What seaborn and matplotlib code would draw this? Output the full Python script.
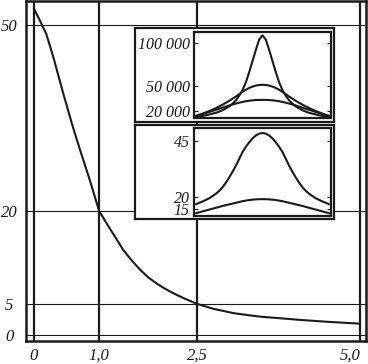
import matplotlib
matplotlib.use("Agg")
import matplotlib.pyplot as plt
import numpy as np
import pandas as pd
import seaborn as sns

sns.set_theme(style="white")
plt.rcParams["font.family"] = ["Liberation Serif", "DejaVu Serif"]
plt.rcParams["font.style"] = "italic"

W, H = 368, 364

# main curve
main_x = [0, 0.1, 0.19, 0.3, 0.45, 0.6, 0.71, 0.86, 1.0, 1.15, 1.27, 1.37, 1.5,
          1.63, 1.75, 1.88, 2.0, 2.14, 2.3, 2.5, 2.75, 3.06, 3.3, 3.5, 3.8,
          4.09, 4.5, 4.75, 5.0]
main_y = [52.7, 50.6, 48.6, 44.8, 39.0, 33.5, 29.8, 24.9, 20.0, 17.4, 15.4, 13.7, 12.0,
          10.5, 9.3, 8.3, 7.5, 6.7, 5.9, 5.0, 4.2, 3.5, 3.15, 2.9, 2.65,
          2.4, 2.1, 1.95, 1.8]
main_xticks = [0, 1.0, 2.5, 5.0]
main_xlabels = ["0", "1,0", "2,5", "5,0"]
main_yticks = [0, 5, 20, 50]
main_ylabels = ["0", "5", "20", "50"]

# upper inset (three peaks), right half, curves mirror around the centre
half = [0, 0.05, 0.1, 0.15, 0.2, 0.25, 0.3, 0.35, 0.4, 0.45, 0.5, 0.55,
        0.6, 0.65, 0.7, 0.8, 0.9, 1.0]
peak_a = [109000, 104000, 92000, 79000, 66000, 54000, 45000, 38500, 33000, 29200,
          26000, 23600, 21500, 19900, 18500, 16500, 14800, 13500]
peak_b = [51200, 51000, 50300, 49100, 47500, 45400, 43000, 40200, 37500, 35000,
          32500, 30200, 28000, 26000, 24000, 20500, 17500, 14500]
peak_c = [33600, 33550, 33400, 33050, 32600, 32000, 31200, 30300, 29300, 28200,
          27000, 25800, 24500, 23200, 22000, 19500, 17200, 15000]
top_yticks = [20000, 50000, 100000]
top_ylabels = ["20 000", "50 000", "100 000"]

# lower inset (two peaks)
peak_d = [48.4, 48.1, 47.3, 46.0, 44.3, 42.3, 40.0, 37.0, 34.0, 31.3,
          28.8, 26.5, 24.5, 22.9, 21.6, 19.6, 18.2, 17.0]
peak_e = [19.2, 19.18, 19.1, 18.97, 18.8, 18.57, 18.3, 17.95, 17.6, 17.25,
          16.9, 16.55, 16.2, 15.8, 15.4, 14.6, 13.8, 13.0]
bot_yticks = [15, 20, 45]
bot_ylabels = ["15", "20", "45"]


def mirror(xs, ys):
    return [-v for v in xs[:0:-1]] + xs, ys[:0:-1] + ys


def px_rect(x0, y0, x1, y1):
    return [x0 / W, 1 - y1 / H, (x1 - x0) / W, (y1 - y0) / H]


def italic_labels(a):
    for lbl in a.get_xticklabels() + a.get_yticklabels():
        lbl.set_fontstyle("italic")


fig = plt.figure(figsize=(W / 100, H / 100), dpi=100)

# ---- main axes
ax = fig.add_axes(px_rect(26, 1, 366, 341))
sns.lineplot(x=main_x, y=main_y, ax=ax, color="k", lw=1.5, zorder=3)
ax.set_xlim(-0.12, 5.09)
ax.set_ylim(-1, 53.9)
ax.set_xticks(main_xticks)
ax.set_xticklabels(main_xlabels)
ax.set_yticks(main_yticks)
ax.set_yticklabels(main_ylabels, ha="center")
ax.tick_params(axis="both", length=0, labelsize=12, colors="k")
ax.tick_params(axis="y", pad=12)
ax.tick_params(axis="x", pad=5)
ax.grid(axis="x", color="k", lw=1.6)
ax.grid(axis="y", color="k", lw=0.8)
[s.set_linewidth(1.8) for s in ax.spines.values()]
[s.set_edgecolor("k") for s in ax.spines.values()]
italic_labels(ax)
ax.get_xticklabels()[-1].set_horizontalalignment("right")
ax.get_xticklabels()[-1].set_x(5.09)


def inset(box, inner, series, yticks, ylabels, ylim):
    frame = fig.add_axes(px_rect(*box), zorder=2)
    frame.set_facecolor("white")
    frame.set_xticks([])
    frame.set_yticks([])
    [s.set_linewidth(1.6) for s in frame.spines.values()]
    [s.set_edgecolor("k") for s in frame.spines.values()]

    iax = fig.add_axes(px_rect(*inner), zorder=3)
    iax.set_facecolor("white")
    for ys in series:
        xx, yy = mirror(half, ys)
        sns.lineplot(x=xx, y=yy, ax=iax, color="k", lw=1.5)
    iax.set_xlim(-1.03, 1.03)
    iax.set_ylim(*ylim)
    iax.set_xticks([])
    iax.set_yticks(yticks)
    iax.set_yticklabels(ylabels)
    iax.tick_params(axis="y", direction="in", left=True, right=True,
                    length=3, width=0.8, pad=3, labelsize=11.5, colors="k")
    [s.set_linewidth(1.6) for s in iax.spines.values()]
    [s.set_edgecolor("k") for s in iax.spines.values()]
    italic_labels(iax)
    return iax


inset((135, 28, 334, 122), (194, 32, 331, 118),
      [peak_a, peak_b, peak_c], top_yticks, top_ylabels, (12400, 112900))
inset((135, 125, 334, 219), (194, 128, 331, 215.7),
      [peak_d, peak_e], bot_yticks, bot_ylabels, (11.9, 50.6))

fig.savefig("out.png", dpi=100)
